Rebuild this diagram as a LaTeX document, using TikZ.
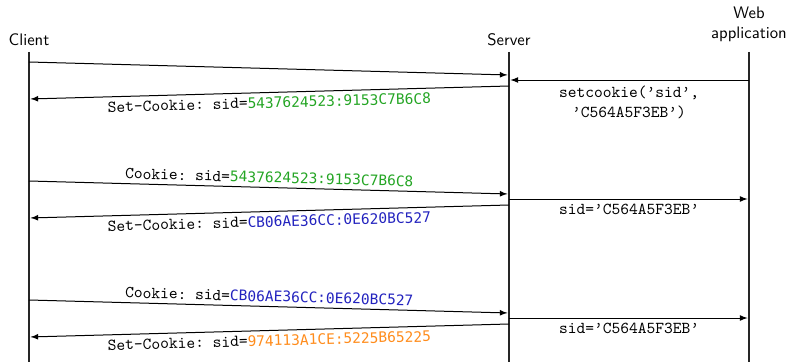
\documentclass[tikz,border=0pt]{standalone}
\usepackage{fontspec}
\usepackage{tikz}
\usetikzlibrary{positioning}

\newfontfamily\hexfont[Scale=0.87]{DejaVu Sans Mono}
\definecolor{sidgreen}{RGB}{36,165,36}
\definecolor{sidblue}{RGB}{34,34,190}
\definecolor{sidorange}{RGB}{255,140,28}
\newcommand{\sidval}[2]{{\color{#1}\hexfont #2}}

\begin{document}
\begin{tikzpicture}[
	x=0.6pt,
	y=-0.6pt,
	actor/.style={
		font=\sffamily,
		align=center,
		inner sep=1pt
		},
	lifeline/.style={
		line width=1.5pt,
		black!85
		},
	msg/.style={
		-latex,
		semithick,
		shorten >=0.9pt
		},
	lbl/.style={
		font=\ttfamily\frenchspacing,
		align=center,
		inner sep=2.5pt
		}
]
\useasboundingbox (0,0) rectangle (790,362);

% Actors
\node [actor] (client) at (29,40) {Client};
\node [actor] (server) at (509,40) {Server};
\node [actor] (webapp) at (749,24) {Web\\application};

% Lifelines
\coordinate (client top) at (29,52);
\coordinate (client bot) at (29,362);
\coordinate (server top) at (509,52);
\coordinate (server bot) at (509,362);
\coordinate (webapp top) at (749,52);
\coordinate (webapp bot) at (749,362);
\draw [lifeline] (client top) -- (client bot);
\draw [lifeline] (server top) -- (server bot);
\draw [lifeline] (webapp top) -- (webapp bot);

% Message end points
\coordinate (c1) at (29,62);   \coordinate (s1) at (509,75);
\coordinate (w2) at (749,80);  \coordinate (s2) at (509,80);
\coordinate (s3) at (509,86);  \coordinate (c3) at (29,99);
\coordinate (c4) at (29,181);  \coordinate (s4) at (509,194);
\coordinate (s5) at (509,199); \coordinate (w5) at (749,199);
\coordinate (s6) at (509,205); \coordinate (c6) at (29,218);
\coordinate (c7) at (29,300);  \coordinate (s7) at (509,313);
\coordinate (s8) at (509,318); \coordinate (w8) at (749,318);
\coordinate (s9) at (509,324); \coordinate (c9) at (29,337);

% First request
\draw [msg] (c1) -- (s1);
\draw [msg] (w2) -- node [lbl, below=1pt] {setcookie(’sid’,\\’C564A5F3EB’)} (s2);
\draw [msg] (s3) -- node [lbl, sloped, below] {Set-Cookie: sid=\sidval{sidgreen}{5437624523:9153C7B6C8}} (c3);

% Second request
\draw [msg] (c4) -- node [lbl, sloped, above] {Cookie: sid=\sidval{sidgreen}{5437624523:9153C7B6C8}} (s4);
\draw [msg] (s5) -- node [lbl, below] {sid=’C564A5F3EB’} (w5);
\draw [msg] (s6) -- node [lbl, sloped, below] {Set-Cookie: sid=\sidval{sidblue}{CB06AE36CC:0E620BC527}} (c6);

% Third request
\draw [msg] (c7) -- node [lbl, sloped, above] {Cookie: sid=\sidval{sidblue}{CB06AE36CC:0E620BC527}} (s7);
\draw [msg] (s8) -- node [lbl, below] {sid=’C564A5F3EB’} (w8);
\draw [msg] (s9) -- node [lbl, sloped, below] {Set-Cookie: sid=\sidval{sidorange}{974113A1CE:5225B65225}} (c9);

\end{tikzpicture}
\end{document}
